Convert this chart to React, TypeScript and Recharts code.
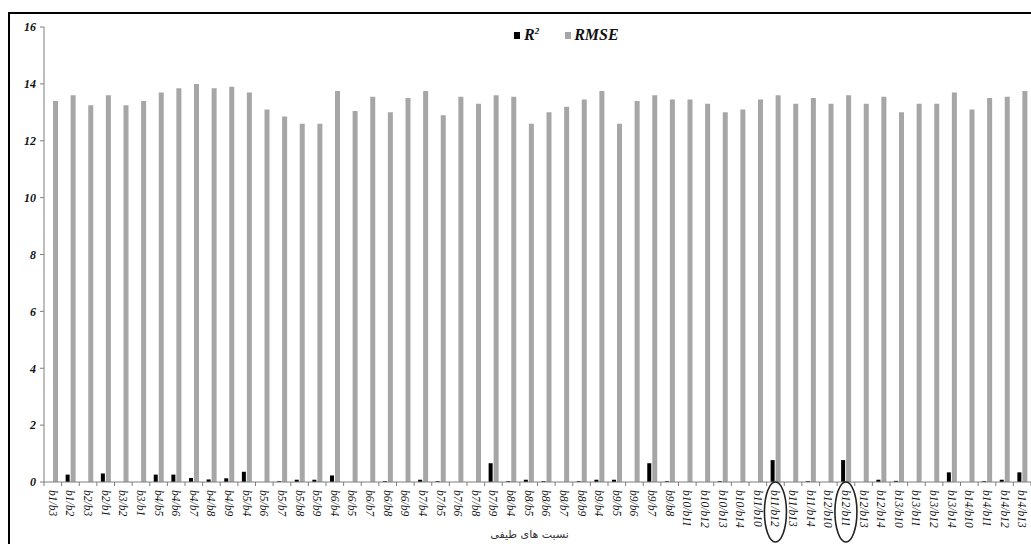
import React from "react";
import { BarChart, Bar, XAxis, YAxis, Legend } from "recharts";

const categories = [
  "b1/b3", "b1/b2", "b2/b3", "b2/b1", "b3/b2", "b3/b1",
  "b4/b5", "b4/b6", "b4/b7", "b4/b8", "b4/b9",
  "b5/b4", "b5/b6", "b5/b7", "b5/b8", "b5/b9",
  "b6/b4", "b6/b5", "b6/b7", "b6/b8", "b6/b9",
  "b7/b4", "b7/b5", "b7/b6", "b7/b8", "b7/b9",
  "b8/b4", "b8/b5", "b8/b6", "b8/b7", "b8/b9",
  "b9/b4", "b9/b5", "b9/b6", "b9/b7", "b9/b8",
  "b10/b11", "b10/b12", "b10/b13", "b10/b14",
  "b11/b10", "b11/b12", "b11/b13", "b11/b14",
  "b12/b10", "b12/b11", "b12/b13", "b12/b14",
  "b13/b10", "b13/b11", "b13/b12", "b13/b14",
  "b14/b10", "b14/b11", "b14/b12", "b14/b13",
];

const r2Values = [
  0, 0.26, 0, 0.3, 0, 0,
  0.26, 0.26, 0.14, 0.09, 0.13,
  0.36, 0, 0.03, 0.08, 0.08,
  0.23, 0, 0, 0.03, 0,
  0.08, 0.03, 0, 0, 0.66,
  0.03, 0.08, 0.03, 0, 0.03,
  0.08, 0.08, 0, 0.66, 0.03,
  0, 0, 0.03, 0,
  0, 0.77, 0, 0.03,
  0, 0.77, 0, 0.08,
  0.04, 0, 0, 0.34,
  0, 0.03, 0.08, 0.34,
];

const rmseValues = [
  13.4, 13.6, 13.25, 13.6, 13.25, 13.4,
  13.7, 13.85, 14.0, 13.85, 13.9,
  13.7, 13.1, 12.85, 12.6, 12.6,
  13.75, 13.05, 13.55, 13.0, 13.5,
  13.75, 12.9, 13.55, 13.3, 13.6,
  13.55, 12.6, 13.0, 13.2, 13.45,
  13.75, 12.6, 13.4, 13.6, 13.45,
  13.45, 13.3, 13.0, 13.1,
  13.45, 13.6, 13.3, 13.5,
  13.3, 13.6, 13.3, 13.55,
  13.0, 13.3, 13.3, 13.7,
  13.1, 13.5, 13.55, 13.75,
];

const yTicks = [0, 2, 4, 6, 8, 10, 12, 14, 16];
const circled = ["b11/b12", "b12/b11"];
const axisTitle = "نسبت های طیفی";

const data = categories.map((name, i) => ({
  name,
  r2: r2Values[i],
  rmse: rmseValues[i],
}));

const W = 1021;
const H = 530;
const LEFT = 34;
const BAND = (W - LEFT) / categories.length;
const AXIS = "#7f7f7f";

function XTick(props: any) {
  const { x, y, payload } = props;
  const idx = payload.index ?? props.index;
  const axisY = y - 8;
  const label = payload.value;
  return (
    <g>
      <line x1={x - BAND / 2} x2={x - BAND / 2} y1={axisY} y2={axisY + 4} stroke={AXIS} />
      {idx === categories.length - 1 && (
        <line x1={x + BAND / 2} x2={x + BAND / 2} y1={axisY} y2={axisY + 4} stroke={AXIS} />
      )}
      <text
        x={x}
        y={y}
        transform={`rotate(90, ${x}, ${y})`}
        textAnchor="start"
        dominantBaseline="central"
        fontFamily="'Liberation Serif', serif"
        fontStyle="italic"
        fontSize={11.5}
        fill="#111"
      >
        {label}
      </text>
      {circled.includes(label) && (
        <ellipse cx={x} cy={axisY + 30} rx={11} ry={30} fill="none" stroke="#222" strokeWidth={1.6} />
      )}
    </g>
  );
}

function LegendBox() {
  return (
    <div
      style={{
        display: "flex",
        alignItems: "center",
        fontFamily: "'Liberation Serif', serif",
        fontStyle: "italic",
        fontWeight: "bold",
        fontSize: 16,
        color: "#111",
        whiteSpace: "nowrap",
      }}
    >
      <span style={{ display: "inline-block", width: 6, height: 7, background: "#000", marginRight: 4 }} />
      <span>
        R<sup style={{ fontSize: 9 }}>2</sup>
      </span>
      <span style={{ display: "inline-block", width: 6, height: 7, background: "#a6a6a6", marginLeft: 26, marginRight: 3 }} />
      <span>RMSE</span>
    </div>
  );
}

export default function App() {
  return (
    <div
      style={{
        position: "absolute",
        left: 8,
        top: 12,
        width: 1023,
        height: 532,
        boxSizing: "border-box",
        borderTop: "2px solid #000",
        borderLeft: "2px solid #000",
        overflow: "hidden",
        background: "#fff",
      }}
    >
      <BarChart
        width={W}
        height={H}
        data={data}
        margin={{ top: 13, right: 0, left: 0, bottom: 0 }}
        barGap={1}
      >
        <Legend
          content={<LegendBox />}
          verticalAlign="middle"
          align="center"
          wrapperStyle={{ top: 12, left: 504, width: "auto" }}
        />
        <XAxis
          dataKey="name"
          interval={0}
          height={62}
          stroke={AXIS}
          tickLine={false}
          tickSize={4}
          tickMargin={4}
          tick={<XTick />}
          label={{
            value: axisTitle,
            position: "insideBottom",
            offset: 6,
            dx: -8,
            fill: "#333",
            fontSize: 11,
            fontFamily: "'DejaVu Sans', sans-serif",
          }}
        />
        <YAxis
          width={LEFT}
          domain={[0, 16]}
          ticks={yTicks}
          stroke={AXIS}
          tickSize={4}
          tickMargin={4}
          tick={{
            fill: "#111",
            fontSize: 12,
            fontStyle: "italic",
            fontWeight: "bold",
            fontFamily: "'Liberation Serif', serif",
          }}
        />
        <Bar dataKey="r2" name="R2" fill="#000" barSize={4} isAnimationActive={false} />
        <Bar dataKey="rmse" name="RMSE" fill="#a6a6a6" barSize={5} isAnimationActive={false} />
      </BarChart>
    </div>
  );
}
